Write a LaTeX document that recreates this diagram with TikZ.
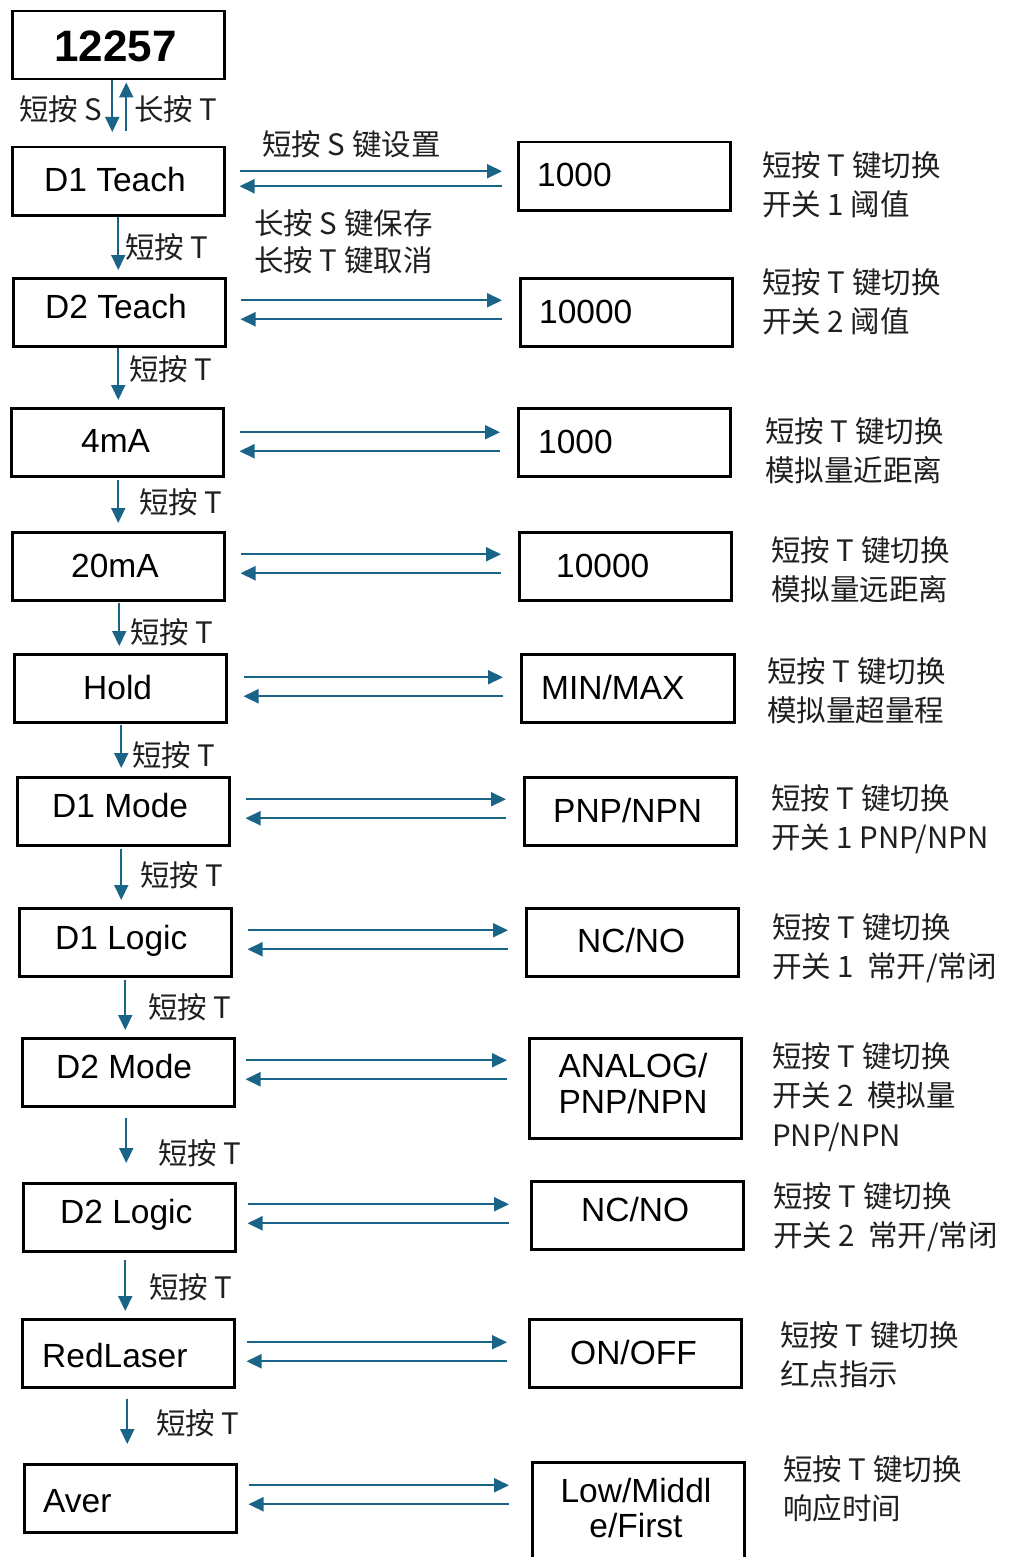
\documentclass[tikz,border=0pt]{standalone}
\usepackage{fontspec}
\setmainfont{Liberation Sans}
\newfontfamily\cjk{Noto Sans CJK SC}
\usetikzlibrary{arrows.meta,calc}
\definecolor{arrowblue}{RGB}{26,100,135}
\newcommand\hpair[6]{%
  \draw[arr] ($(#1.east)+(#3,#5)$) -- ($(#1.east -| #2.west)+(#4,#5)$);
  \draw[arr] ($(#1.east -| #2.west)+(#4,#6)$) -- ($(#1.east)+(#3,#6)$);
}
\newcommand\vdown[5]{%
  \draw[arr] ($(#1.south)+(#3,#4)$) -- ($(#1.south |- #2.north)+(#3,-#5)$);
}
\begin{document}
\begin{tikzpicture}[x=1pt,y=-1pt,
  box/.style={draw=black,line width=2.5pt,minimum width=212pt,minimum height=68pt,inner sep=0pt,anchor=north west},
  lbl/.style={inner sep=0pt,anchor=base west,font=\fontsize{33.5}{37}\selectfont},
  clbl/.style={inner sep=0pt,anchor=base,align=center,font=\fontsize{33.5}{36}\selectfont},
  note/.style={inner sep=0pt,anchor=base west,align=left,text=black!88,font=\cjk\fontsize{29.5}{39.5}\selectfont},
  arr/.style={draw=arrowblue,line width=2pt,-{Triangle[length=15pt,width=14pt]}}]
\useasboundingbox (0,0) rectangle (1013,1557);
% left boxes
\node[box] (T)  at (11,10) {};
\node[box] (L1) at (11,146) {};
\node[box] (L2) at (12,277) {};
\node[box] (L3) at (10,407) {};
\node[box] (L4) at (11,531) {};
\node[box] (L5) at (13,653) {};
\node[box] (L6) at (16,776) {};
\node[box] (L7) at (18,907) {};
\node[box] (L8) at (21,1037) {};
\node[box] (L9) at (22,1182) {};
\node[box] (L10) at (21,1318) {};
\node[box] (L11) at (23,1463) {};
% right boxes
\node[box] (R1) at (517,141) {};
\node[box] (R2) at (519,277) {};
\node[box] (R3) at (517,407) {};
\node[box] (R4) at (518,531) {};
\node[box,minimum width=213pt] (R5) at (520,653) {};
\node[box] (R6) at (523,776) {};
\node[box] (R7) at (525,907) {};
\node[box,minimum height=100pt] (R8) at (528,1037) {};
\node[box] (R9) at (530,1180) {};
\node[box] (R10) at (528,1318) {};
\node[box,minimum height=130pt] (R11) at (531,1461) {};
% left labels
\node[lbl,font=\fontsize{44}{48}\selectfont\bfseries] (tT) at (54,62) {12257};
\node[lbl] (t1) at (44,192) {D1 Teach};
\node[lbl] (t2) at (45,318) {D2 Teach};
\node[lbl] (t3) at (81,452) {4mA};
\node[lbl] (t4) at (71,577) {20mA};
\node[lbl] (t5) at (83,699) {Hold};
\node[lbl] (t6) at (52,817) {D1 Mode};
\node[lbl] (t7) at (55,949) {D1 Logic};
\node[lbl] (t8) at (56,1078) {D2 Mode};
\node[lbl] (t9) at (60,1223) {D2 Logic};
\node[lbl] (t10) at (42,1367) {RedLaser};
\node[lbl] (t11) at (43,1512) {Aver};
% right labels
\node[lbl] (s1) at (537,186) {1000};
\node[lbl] (s2) at (539,323) {10000};
\node[lbl] (s3) at (538,453) {1000};
\node[lbl] (s4) at (556,577) {10000};
\node[lbl] (s5) at (541,699) {MIN/MAX};
\node[lbl] (s6) at (553,822) {PNP/NPN};
\node[lbl] (s7) at (577,952) {NC/NO};
\node[clbl] (s8) at (633,1113) {ANALOG/\\PNP/NPN};
\node[lbl] (s9) at (581,1221) {NC/NO};
\node[lbl] (s10) at (570,1364) {ON/OFF};
\node[clbl,font=\fontsize{33.5}{35}\selectfont] (s11) at (636,1537) {Low/Middl\\e/First};
% notes (base anchor = baseline of last line)
\node[note] (n1) at (762,215.5) {短按 T 键切换\\开关 1 阈值};
\node[note] (n2) at (762,332.5) {短按 T 键切换\\开关 2 阈值};
\node[note] (n3) at (765,481.5) {短按 T 键切换\\模拟量近距离};
\node[note] (n4) at (771,600.5) {短按 T 键切换\\模拟量远距离};
\node[note] (n5) at (767,721.5) {短按 T 键切换\\模拟量超量程};
\node[note] (n6) at (771,848.5) {短按 T 键切换\\开关 1 PNP/NPN};
\node[note] (n7) at (772,977.5) {短按 T 键切换\\开关 1\ \ 常开/常闭};
\node[note] (n8) at (772,1146) {短按 T 键切换\\开关 2\ \ 模拟量\\PNP/NPN};
\node[note] (n9) at (773,1246.5) {短按 T 键切换\\开关 2\ \ 常开/常闭};
\node[note] (n10) at (780,1385.5) {短按 T 键切换\\红点指示};
\node[note] (n11) at (783,1519.5) {短按 T 键切换\\响应时间};
% arrow labels
\node[note] (a0) at (19,121) {短按 S};
\node[note] (a0b) at (134,121) {长按 T};
\node[note] (k1) at (262,156) {短按 S 键设置};
\node[note,font=\cjk\fontsize{29.5}{37.5}\selectfont] (k2) at (254,271.5) {长按 S 键保存\\长按 T 键取消};
\node[note] (a1) at (125,258) {短按 T};
\node[note] (a2) at (129,380) {短按 T};
\node[note] (a3) at (139,513) {短按 T};
\node[note] (a4) at (130,643) {短按 T};
\node[note] (a5) at (132,766) {短按 T};
\node[note] (a6) at (140,886) {短按 T};
\node[note] (a7) at (148,1018) {短按 T};
\node[note] (a8) at (158,1164) {短按 T};
\node[note] (a9) at (149,1298) {短按 T};
\node[note] (a10) at (156,1434) {短按 T};
% vertical arrows
\vdown{T}{L1}{-6}{0}{14}
\draw[arr] ($(T.south |- L1.north)+(8,-15)$) -- ($(T.south)+(8,2)$);
\vdown{L1}{L2}{0}{0}{7}
\vdown{L2}{L3}{-1}{0}{7}
\vdown{L3}{L4}{1}{2}{8}
\vdown{L4}{L5}{1}{1}{7}
\vdown{L5}{L6}{1}{1}{8}
\vdown{L6}{L7}{-2}{2}{7}
\vdown{L7}{L8}{0}{2}{7}
\vdown{L8}{L9}{-2}{10}{19}
\vdown{L9}{L10}{-4}{7}{7}
\vdown{L10}{L11}{-1}{10}{19}
% horizontal arrow pairs
\hpair{L1}{R1}{14}{-15}{-10}{5}
\hpair{L2}{R2}{14}{-17}{-12}{7}
\hpair{L3}{R3}{15}{-17}{-10}{9}
\hpair{L4}{R4}{15}{-17}{-12}{7}
\hpair{L5}{R5}{16}{-17}{-11}{8}
\hpair{L6}{R6}{15}{-17}{-12}{7}
\hpair{L7}{R7}{15}{-17}{-12}{7}
\hpair{L8}{R8}{10}{-21}{-12}{7}
\hpair{L9}{R9}{11}{-21}{-13}{6}
\hpair{L10}{R10}{11}{-21}{-11}{8}
\hpair{L11}{R11}{11}{-22}{-13}{6}
\end{tikzpicture}
\end{document}
